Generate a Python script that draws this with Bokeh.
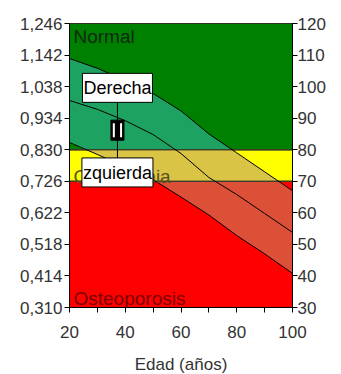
import numpy as np
from bokeh.plotting import figure
from bokeh.models import Range1d, LinearAxis, FixedTicker, Label
from bokeh.embed import file_html
from bokeh.resources import INLINE

# ---- data ----
AGES = [20, 30, 40, 50, 60, 70, 80, 90, 100]
UPPER = [108.9, 105.8, 102.0, 97.8, 92.3, 85.0, 79.0, 73.0, 67.0]   # % (+1 SD)
MEAN = [95.6, 92.8, 89.2, 84.8, 78.8, 71.2, 65.8, 59.8, 53.8]       # % mean
LOWER = [82.3, 78.5, 74.5, 70.5, 65.0, 59.3, 52.8, 47.0, 40.8]      # % (-1 SD)

ZONE_NAMES = ["Osteoporosis", "Osteopenia", "Normal"]
ZONE_BOTTOM = [30, 70, 80]
ZONE_TOP = [70, 80, 120]
ZONE_COLORS = ["#ff0000", "#ffff00", "#008000"]
BAND_COLORS = ["#dc5038", "#d9c445", "#1ea262"]
ZONE_TEXT_COLORS = ["#7a0000", "#5a5020", "#0f2a0f"]

PCT_TICKS = [30, 40, 50, 60, 70, 80, 90, 100, 110, 120]
BMD_LABELS = ["0,310", "0,414", "0,518", "0,622", "0,726",
              "0,830", "0,934", "1,038", "1,142", "1,246"]
X_TICKS = [20, 40, 60, 80, 100]
X_MINOR = [30, 50, 70, 90]

PATIENT_AGE = 37.2
PATIENT_PCT = 86.2
LABEL_TEXTS = ["Derecha", "zquierda"]
LABEL_PCTS = [99.6, 72.8]

FONT = "Liberation Sans"

p = figure(frame_width=223, frame_height=284, output_backend="svg",
           toolbar_location=None,
           x_range=Range1d(20, 100), y_range=Range1d(30, 120),
           min_border_left=69, min_border_right=41, min_border_top=23,
           min_border_bottom=60, background_fill_color="white",
           border_fill_color="white")
p.outline_line_color = "black"
p.xgrid.visible = False
p.ygrid.visible = False

# zone backgrounds
p.quad(left=AGES[0], right=AGES[-1], bottom=ZONE_BOTTOM, top=ZONE_TOP,
       fill_color=ZONE_COLORS, line_color="#3a3a2a", line_width=1)

# band between -1SD and +1SD, coloured per zone
fine = np.linspace(AGES[0], AGES[-1], 641)
lo = np.interp(fine, AGES, LOWER)
hi = np.interp(fine, AGES, UPPER)
for b, t, c in zip(ZONE_BOTTOM, ZONE_TOP, BAND_COLORS):
    p.varea(x=fine, y1=np.clip(lo, b, t), y2=np.clip(hi, b, t), fill_color=c)

# zone border lines again on top of the band
p.quad(left=AGES[0], right=AGES[-1], bottom=ZONE_BOTTOM, top=ZONE_TOP,
       fill_alpha=0, line_color="#3a3a2a", line_width=1)

for ys in (UPPER, MEAN, LOWER):
    p.line(AGES, ys, line_color="black", line_width=1)

# connector + patient marker
p.segment(x0=PATIENT_AGE, x1=PATIENT_AGE, y0=LABEL_PCTS[0], y1=LABEL_PCTS[1],
          line_color="black", line_width=1)
p.rect(x=PATIENT_AGE, y=PATIENT_PCT, width=13, height=20,
       width_units="screen", height_units="screen",
       fill_color="black", line_color="black")
p.rect(x=[PATIENT_AGE - 1.3, PATIENT_AGE + 1.3], y=PATIENT_PCT, width=2, height=14,
       width_units="screen", height_units="screen",
       fill_color="white", line_color=None)

# zone names
p.add_layout(Label(x=20, y=120, x_offset=4, y_offset=-2, text=ZONE_NAMES[2],
                   text_baseline="top", text_font=FONT, text_font_size="19px",
                   text_color=ZONE_TEXT_COLORS[2]))
p.add_layout(Label(x=20, y=70, x_offset=4, y_offset=5, text=ZONE_NAMES[1],
                   text_baseline="alphabetic", text_font=FONT, text_font_size="19px",
                   text_color=ZONE_TEXT_COLORS[1]))
p.add_layout(Label(x=20, y=30, x_offset=4, y_offset=9, text=ZONE_NAMES[0],
                   text_baseline="alphabetic", text_font=FONT, text_font_size="19px",
                   text_color=ZONE_TEXT_COLORS[0]))

# side labels
for txt, yv in zip(LABEL_TEXTS, LABEL_PCTS):
    p.add_layout(Label(x=PATIENT_AGE, y=yv, text=txt, text_align="center",
                       text_baseline="middle", text_font=FONT,
                       text_font_size="18px", text_color="black",
                       background_fill_color="white", border_line_color="black",
                       padding=dict(left=1, right=1, top=5, bottom=4)))

# axes
def style_axis(ax):
    ax.axis_line_color = "black"
    ax.major_tick_line_color = "black"
    ax.minor_tick_line_color = "black"
    ax.major_tick_in = 0
    ax.major_tick_out = 5
    ax.minor_tick_in = 0
    ax.minor_tick_out = 5
    ax.major_label_text_font = FONT
    ax.major_label_text_font_size = "17px"
    ax.major_label_text_color = "#333333"

p.xaxis.ticker = FixedTicker(ticks=X_TICKS, minor_ticks=X_MINOR)
p.xaxis.axis_label = "Edad (años)"
p.xaxis.axis_label_text_font = FONT
p.xaxis.axis_label_text_font_size = "17px"
p.xaxis.axis_label_text_font_style = "normal"
p.xaxis.axis_label_text_color = "#333333"
p.xaxis.major_label_standoff = 13
p.xaxis.axis_label_standoff = 14
style_axis(p.xaxis[0])

p.yaxis.ticker = FixedTicker(ticks=PCT_TICKS)
p.yaxis.major_label_overrides = {t: l for t, l in zip(PCT_TICKS, BMD_LABELS)}
p.yaxis.major_label_standoff = 2
style_axis(p.yaxis[0])

ry = LinearAxis(ticker=FixedTicker(ticks=PCT_TICKS))
style_axis(ry)
ry.major_label_standoff = 0
p.add_layout(ry, "right")

open("out.html", "w").write(file_html(p, INLINE))
